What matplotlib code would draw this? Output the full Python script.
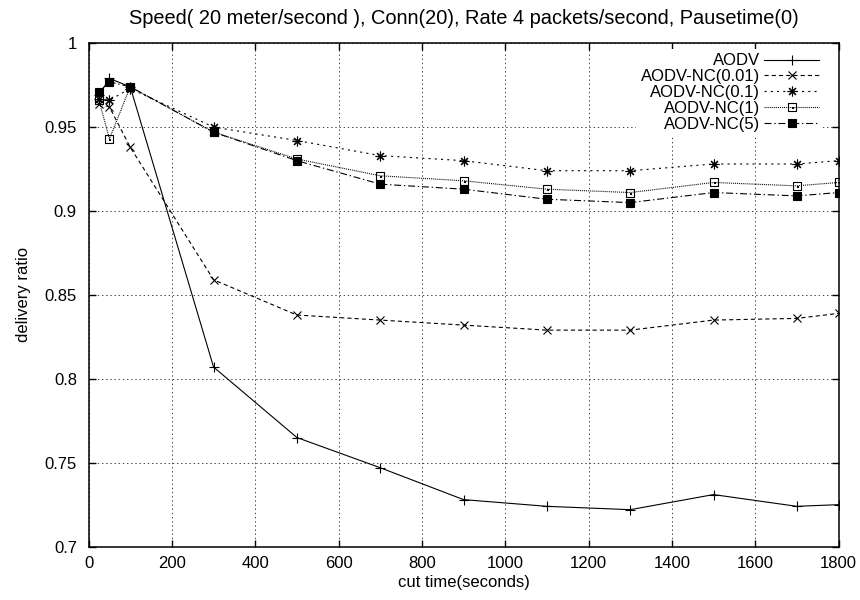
import matplotlib
matplotlib.use("Agg")
import matplotlib.pyplot as plt
from matplotlib.path import Path
from matplotlib.ticker import FormatStrFormatter


# DATA
cut_time = [25, 50, 100, 300, 500, 700, 900, 1100, 1300, 1500, 1700, 1800]
aodv = [0.969, 0.979, 0.974, 0.807, 0.765, 0.747, 0.728, 0.724, 0.722, 0.731, 0.724, 0.725]
nc_001 = [0.964, 0.962, 0.938, 0.859, 0.838, 0.835, 0.832, 0.829, 0.829, 0.835, 0.836, 0.839]
nc_01 = [0.967, 0.966, 0.973, 0.950, 0.942, 0.933, 0.930, 0.924, 0.924, 0.928, 0.928, 0.930]
nc_1 = [0.966, 0.943, 0.974, 0.947, 0.931, 0.921, 0.918, 0.913, 0.911, 0.917, 0.915, 0.917]
nc_5 = [0.971, 0.977, 0.974, 0.947, 0.930, 0.916, 0.913, 0.907, 0.905, 0.911, 0.909, 0.911]
labels = ["AODV", "AODV-NC(0.01)", "AODV-NC(0.1)", "AODV-NC(1)", "AODV-NC(5)"]
x_ticks = [0, 200, 400, 600, 800, 1000, 1200, 1400, 1600, 1800]
y_ticks = [0.7, 0.75, 0.8, 0.85, 0.9, 0.95, 1.0]

plt.rcParams['font.family'] = ['Liberation Sans', 'DejaVu Sans']
plt.rcParams['font.size'] = 12
plt.rcParams['lines.scale_dashes'] = False

# gnuplot style square with a dot in the middle
sq_dot = Path(
    [(-1, -1), (1, -1), (1, 1), (-1, 1), (-1, -1),
     (-0.12, -0.12), (0.12, -0.12), (0.12, 0.12), (-0.12, 0.12), (-0.12, -0.12)],
    [Path.MOVETO, Path.LINETO, Path.LINETO, Path.LINETO, Path.CLOSEPOLY,
     Path.MOVETO, Path.LINETO, Path.LINETO, Path.LINETO, Path.CLOSEPOLY])

fig = plt.figure(figsize=(8.6, 6), dpi=100)
ax = fig.add_axes([0.103, 0.089, 0.872, 0.839])

lw = 0.8
ax.plot(cut_time, aodv, color='black', lw=lw, ls='-', marker='+', ms=7, mew=0.8, label=labels[0])
ax.plot(cut_time, nc_001, color='black', lw=lw, ls=(0, (3, 2.2)), marker='x', ms=6, mew=0.8, label=labels[1])
ax.plot(cut_time, nc_01, color='black', lw=lw, ls=(0, (1.5, 3)), marker=(8, 2, 0), ms=7, mew=0.8, label=labels[2])
ax.plot(cut_time, nc_1, color='black', lw=lw, ls=(0, (0.7, 0.7)), marker=sq_dot, ms=6, mew=0.8,
        mfc='none', label=labels[3])
ax.plot(cut_time, nc_5, color='black', lw=lw, ls=(0, (5, 2, 1, 2)), marker='s', ms=6, mew=0.8, label=labels[4])

ax.set_xlim(0, 1800)
ax.set_ylim(0.7, 1.0)
ax.set_xticks(x_ticks)
ax.set_yticks(y_ticks)
ax.yaxis.set_major_formatter(FormatStrFormatter('%g'))
ax.tick_params(direction='in', top=True, right=True, length=5, width=1)
ax.tick_params(axis='x', pad=7)
ax.tick_params(axis='y', pad=8.4)
ax.grid(True, color='#444444', lw=0.7, ls=(0, (1, 2)))
for s in ax.spines.values():
    s.set_linewidth(1.1)

ax.set_title("Speed( 20 meter/second ), Conn(20), Rate 4 packets/second, Pausetime(0)", pad=14)
ax.set_xlabel("cut time(seconds)", labelpad=3)
ax.set_ylabel("delivery ratio", labelpad=10)

leg = ax.legend(loc='upper right', bbox_to_anchor=(0.9796, 0.988), markerfirst=False, frameon=True,
                fancybox=False, edgecolor='none', facecolor='white', framealpha=1, handlelength=3.3,
                handletextpad=0.25, labelspacing=0.05, borderaxespad=0, borderpad=0.25)

fig.savefig("out.png", dpi=100)
